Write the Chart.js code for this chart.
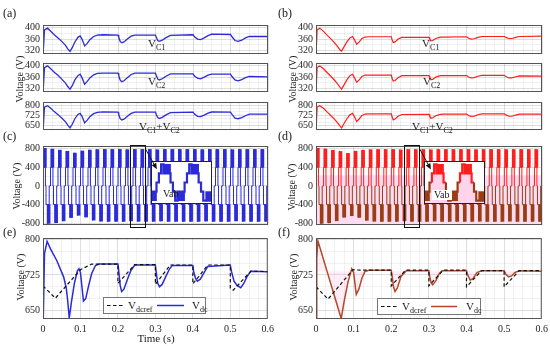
<!DOCTYPE html>
<html>
<head>
<meta charset="utf-8">
<script src="https://cdn.jsdelivr.net/npm/chart.js@4.4.1/dist/chart.umd.min.js"></script>
<style>
  body { margin:0; width:550px; height:346px; position:relative; overflow:hidden; background:#fff;
         font-family:"Liberation Serif","Times New Roman",serif; color:#1a1a1a; }
  canvas { position:absolute; }
  .t { position:absolute; white-space:nowrap; line-height:1; z-index:5; color:#1a1a1a; }
  .pl { font-size:12px; }
  .yt { font-size:10px; transform:translate(-50%,-50%) rotate(-90deg); }
  .v { font-size:11px; }
  .v sub { font-size:8px; vertical-align:-3px; line-height:1; color:#1a1a1a; }
  .leg { position:absolute; box-sizing:border-box; border:1px solid #777; background:#fff; height:17px; z-index:5; }
  .leg svg { position:absolute; top:0; }
  .leg span { position:absolute; top:2px; font-size:11px; line-height:1; white-space:nowrap; color:#1a1a1a; }
  .leg sub { font-size:8px; vertical-align:-3px; line-height:1; color:#1a1a1a; }
  .inset { position:absolute; border:1px solid #222; background:#fff; width:59px; height:41px; z-index:3; }
  .inset canvas { left:0; top:0; }
  .vab { font-size:10px; z-index:6; padding:0 2px; }
</style>
</head>
<body>

<div class="t pl" style="left:3px;top:7px">(a)</div>
<div class="t pl" style="left:278px;top:7px">(b)</div>
<div class="t pl" style="left:3px;top:130px">(c)</div>
<div class="t pl" style="left:278px;top:130px">(d)</div>
<div class="t pl" style="left:3px;top:226px">(e)</div>
<div class="t pl" style="left:278px;top:226px">(f)</div>

<div class="t yt" style="left:20px;top:79px">Voltage (V)</div>
<div class="t yt" style="left:17px;top:186px">Voltage (V)</div>
<div class="t yt" style="left:21px;top:277px">Voltage (V)</div>
<div class="t yt" style="left:293px;top:79px">Voltage (V)</div>
<div class="t yt" style="left:292px;top:187px">Voltage (V)</div>
<div class="t yt" style="left:294px;top:277px">Voltage (V)</div>

<div class="t v" style="left:148px;top:38px">V<sub>C1</sub></div>
<div class="t v" style="left:148px;top:76px">V<sub>C2</sub></div>
<div class="t v" style="left:139px;top:121px">V<sub>C1</sub>+V<sub>C2</sub></div>
<div class="t v" style="left:422px;top:38px">V<sub>C1</sub></div>
<div class="t v" style="left:423px;top:76px">V<sub>C2</sub></div>
<div class="t v" style="left:412px;top:121px">V<sub>C1</sub>+V<sub>C2</sub></div>

<div class="t" style="left:156px;top:333px;transform:translateX(-50%);font-size:11px">Time (s)</div>

<div class="leg" style="left:103px;top:297px;width:103px">
  <svg width="22" height="15" style="left:3px"><line x1="0" y1="7.5" x2="17" y2="7.5" stroke="#111" stroke-width="1.2" stroke-dasharray="3.5,2.5"/></svg>
  <span style="left:24px">V<sub>dcref</sub></span>
  <svg width="30" height="15" style="left:53px"><line x1="0" y1="7.5" x2="27" y2="7.5" stroke="#2b2bd9" stroke-width="1.5"/></svg>
  <span style="left:88px">V<sub>dc</sub></span>
</div>
<div class="leg" style="left:377px;top:298px;width:104px">
  <svg width="22" height="15" style="left:3px"><line x1="0" y1="7.5" x2="18" y2="7.5" stroke="#111" stroke-width="1.2" stroke-dasharray="3.5,2.5"/></svg>
  <span style="left:24px">V<sub>dcref</sub></span>
  <svg width="30" height="15" style="left:53px"><line x1="0" y1="7.5" x2="26" y2="7.5" stroke="#b5482a" stroke-width="1.5"/></svg>
  <span style="left:88px">V<sub>dc</sub></span>
</div>

<div class="inset" id="insetL" style="left:151px;top:161px"></div>
<div class="inset" id="insetR" style="left:424px;top:161px"></div>
<div class="t vab" style="left:161px;top:189px">Vab</div>
<div class="t vab" style="left:432px;top:190px;background:#fff">Vab</div>

<script>
// ---- capacitor voltages, left column (a) ----
const tCapL = [0, 0.004, 0.012, 0.02, 0.03, 0.04, 0.05, 0.06, 0.066, 0.072, 0.078, 0.085, 0.093, 0.099, 0.104, 0.111, 0.118, 0.125, 0.135, 0.145, 0.16, 0.2, 0.202, 0.206, 0.21, 0.216, 0.225, 0.235, 0.245, 0.3, 0.302, 0.306, 0.31, 0.318, 0.328, 0.34, 0.4, 0.404, 0.412, 0.42, 0.43, 0.44, 0.45, 0.5, 0.504, 0.512, 0.52, 0.53, 0.54, 0.55, 0.6];
const vC1L = [300, 392, 398, 388, 375, 364, 352, 338, 326, 317, 330, 350, 366, 371, 360, 336, 345, 358, 369, 374, 375, 374, 366, 352, 347, 350, 360, 370, 374, 374, 366, 355, 352, 356, 365, 373, 375, 368, 360, 358, 364, 372, 377, 376, 368, 355, 352, 356, 364, 369, 369];
const vC2L = [300, 393, 399, 390, 377, 366, 353, 339, 327, 318, 330, 350, 365, 370, 358, 335, 345, 357, 368, 373, 374, 374, 365, 349, 344, 347, 358, 369, 374, 374, 365, 353, 350, 354, 363, 371, 371, 364, 356, 354, 360, 367, 370, 370, 362, 350, 347, 351, 358, 362, 361];
const vSumL = [600, 785, 795, 778, 752, 730, 705, 677, 653, 633, 660, 700, 731, 739, 718, 670, 690, 715, 737, 747, 750, 748, 731, 701, 691, 697, 718, 739, 748, 748, 731, 708, 702, 710, 728, 744, 748, 734, 718, 715, 726, 741, 749, 748, 732, 705, 700, 708, 722, 733, 733];

// ---- capacitor voltages, right column (b) ----
const tCapR = [0, 0.003, 0.01, 0.02, 0.03, 0.04, 0.05, 0.058, 0.064, 0.068, 0.074, 0.082, 0.09, 0.097, 0.102, 0.108, 0.115, 0.122, 0.13, 0.14, 0.2, 0.202, 0.205, 0.21, 0.218, 0.228, 0.3, 0.302, 0.306, 0.31, 0.318, 0.33, 0.34, 0.4, 0.405, 0.412, 0.42, 0.43, 0.44, 0.5, 0.504, 0.512, 0.52, 0.53, 0.54, 0.6];
const vC1R = [300, 392, 398, 387, 373, 360, 346, 333, 322, 318, 332, 350, 364, 369, 358, 342, 350, 362, 367, 368, 368, 358, 348, 350, 360, 366, 366, 360, 354, 355, 362, 367, 367, 368, 363, 360, 361, 366, 369, 369, 366, 362, 362, 366, 369, 370];
const vC2R = [300, 393, 399, 389, 375, 362, 348, 335, 324, 318, 332, 350, 365, 370, 358, 342, 350, 362, 367, 367, 367, 356, 346, 348, 358, 365, 365, 358, 351, 352, 360, 365, 365, 365, 360, 357, 358, 363, 366, 366, 362, 357, 357, 361, 364, 363];
const vSumR = [600, 785, 795, 776, 748, 722, 694, 668, 646, 633, 664, 700, 729, 739, 716, 680, 700, 724, 734, 736, 736, 714, 692, 698, 718, 731, 732, 718, 705, 707, 722, 732, 733, 734, 724, 717, 719, 729, 735, 735, 728, 718, 718, 727, 733, 734];

// ---- inverter output Vab (c), (d): peak of each 20 ms cycle ----
const cyclePeriod = 0.02;
const stairPhase = [0, 0.1, 0.175, 0.325, 0.4, 0.6, 0.675, 0.825, 0.9];
const posPeakL = [810, 792, 770, 745, 708, 752, 772, 782, 786, 786, 786, 780, 786, 786, 786, 778, 786, 786, 786, 786, 786, 781, 786, 786, 786, 780, 786, 786, 786, 786];
const negPeakL = [805, 790, 752, 680, 630, 668, 735, 758, 762, 762, 762, 752, 760, 762, 762, 754, 762, 762, 762, 762, 762, 756, 762, 762, 762, 752, 760, 762, 762, 762];
const posPeakR = [810, 795, 768, 742, 700, 748, 770, 780, 784, 784, 784, 776, 784, 784, 784, 778, 784, 784, 784, 784, 784, 780, 784, 784, 784, 782, 784, 784, 784, 784];
const negPeakR = [805, 792, 748, 672, 640, 676, 738, 758, 762, 762, 762, 750, 760, 762, 762, 755, 762, 762, 762, 762, 762, 758, 762, 762, 762, 756, 762, 762, 762, 762];

// ---- zoomed Vab (insets), time in ms ----
const insetT = [-1, 2.5, 4.2, 5.8, 7.5, 12.5, 14.2, 15.8, 17.5, 22.5, 24.2, 25.8, 27.5, 32.5, 34.2, 35.8, 37.5, 42.5];
const insetV = [-800, -400, 0, 400, 800, 400, 0, -400, -800, -400, 0, 400, 800, 400, 0, -400, -800, -800];
const blockT = [0, 10, 20, 30, 40];
const blockLo = [-800, 400, -800, 400, -800];
const blockHi = [-400, 800, -400, 800, -400];

// ---- dc-link voltage (e), (f) ----
const tDcL = [0, 0.004, 0.011, 0.02, 0.037, 0.055, 0.062, 0.066, 0.07, 0.076, 0.084, 0.092, 0.096, 0.1, 0.104, 0.108, 0.114, 0.122, 0.13, 0.14, 0.15, 0.2, 0.202, 0.206, 0.21, 0.216, 0.225, 0.235, 0.245, 0.3, 0.302, 0.306, 0.311, 0.318, 0.328, 0.338, 0.345, 0.4, 0.402, 0.407, 0.412, 0.42, 0.43, 0.44, 0.5, 0.503, 0.51, 0.518, 0.528, 0.536, 0.545, 0.555, 0.6];
const vDcL = [600, 770, 796, 780, 755, 721, 698, 670, 634, 668, 708, 734, 738, 730, 700, 670, 675, 703, 728, 745, 748, 748, 735, 703, 690, 695, 715, 735, 746, 746, 732, 708, 700, 705, 722, 738, 745, 745, 733, 718, 712, 716, 730, 743, 746, 733, 712, 703, 698, 707, 722, 733, 732];
const tRefL = [0, 0.033, 0.1, 0.13, 0.2, 0.2, 0.245, 0.3, 0.3, 0.34, 0.4, 0.4, 0.44, 0.5, 0.5, 0.508, 0.555, 0.6];
const vRefL = [702, 676, 736, 748, 748, 707, 747, 747, 705, 746, 746, 706, 746, 746, 697, 693, 733, 732];

const tDcR = [0, 0.002, 0.005, 0.015, 0.03, 0.045, 0.058, 0.067, 0.075, 0.085, 0.095, 0.1, 0.107, 0.114, 0.122, 0.13, 0.14, 0.2, 0.202, 0.206, 0.21, 0.216, 0.226, 0.24, 0.3, 0.302, 0.306, 0.31, 0.318, 0.328, 0.335, 0.4, 0.403, 0.41, 0.418, 0.428, 0.44, 0.5, 0.505, 0.512, 0.52, 0.528, 0.54, 0.6];
const vDcR = [600, 760, 797, 771, 731, 691, 657, 633, 670, 710, 738, 730, 684, 695, 718, 732, 735, 735, 725, 700, 690, 697, 722, 734, 734, 722, 708, 704, 712, 728, 734, 734, 725, 714, 718, 730, 734, 734, 726, 721, 723, 730, 734, 733];
const tRefR = [0, 0.032, 0.098, 0.12, 0.2, 0.2, 0.238, 0.3, 0.3, 0.338, 0.4, 0.4, 0.44, 0.5, 0.5, 0.54, 0.6];
const vRefR = [700, 674, 736, 735, 735, 702, 735, 735, 702, 735, 735, 700, 734, 734, 700, 734, 734];

const BLUE = '#2b2bd9', RED = '#ff1e1e', BROWN = '#9a3c14', DCRED = '#b5482a';

Chart.defaults.font.family = '"Liberation Serif", "Times New Roman", serif';
Chart.defaults.font.size = 10;
Chart.defaults.color = '#262626';

const PAD_L = 40, PAD_T = 6, PAD_R = 10, PAD_B = 6;
const gridMajor = 'rgba(0,0,0,0.13)', gridMinor = 'rgba(0,0,0,0.055)';

const isMajor = (v, step) => Math.abs(v / step - Math.round(v / step)) < 1e-6;
const pts = (ts, vs) => ts.map((t, i) => ({ x: t, y: vs[i] }));

// frame box, pink band, zoom rectangle
const framePlugin = {
  id: 'frame',
  beforeDatasetsDraw(chart, args, o) {
    if (!o.band) return;
    const { ctx, chartArea: a, scales: { y } } = chart;
    const y1 = Math.max(y.getPixelForValue(o.band.from), a.top);
    const y2 = Math.min(y.getPixelForValue(o.band.to), a.bottom);
    ctx.save();
    ctx.fillStyle = o.band.color;
    ctx.fillRect(a.left, y1, a.width, y2 - y1);
    ctx.restore();
  },
  afterDraw(chart, args, o) {
    const { ctx, chartArea: a, scales: { x, y } } = chart;
    ctx.save();
    ctx.strokeStyle = '#555';
    ctx.lineWidth = 1;
    ctx.strokeRect(a.left + 0.5, a.top + 0.5, a.width - 1, a.height - 1);
    if (o.zoomBox) {
      const b = o.zoomBox;
      const x0 = Math.round(x.getPixelForValue(b.x0)) + 0.5, x1 = Math.round(x.getPixelForValue(b.x1)) + 0.5;
      const y0 = Math.round(y.getPixelForValue(b.y0)) + 0.5, y1 = Math.round(y.getPixelForValue(b.y1)) + 0.5;
      ctx.strokeStyle = '#111';
      ctx.strokeRect(x0, y0, x1 - x0, y1 - y0);
    }
    ctx.restore();
  }
};

function makePlot(o) {
  const cv = document.createElement('canvas');
  const xH = o.xLabels ? 16 : 0;
  cv.width = PAD_L + o.w + PAD_R;
  cv.height = PAD_T + o.h + xH + PAD_B;
  cv.style.left = (o.left - PAD_L) + 'px';
  cv.style.top = (o.top - PAD_T) + 'px';
  document.body.appendChild(cv);
  const chart = new Chart(cv, {
    type: 'line',
    data: { datasets: o.datasets },
    options: {
      responsive: false,
      animation: false,
      layout: { padding: { top: PAD_T, right: PAD_R, bottom: PAD_B, left: 0 } },
      elements: { point: { radius: 0 }, line: { tension: 0 } },
      plugins: { legend: { display: false }, tooltip: { enabled: false }, frame: o.frame || {} },
      scales: {
        x: {
          type: 'linear', min: 0, max: 0.6, offset: false,
          afterFit: s => { s.height = xH; },
          border: { display: false },
          grid: { offset: false, drawTicks: false, color: c => isMajor(c.tick.value, 0.1) ? gridMajor : gridMinor },
          ticks: { display: !!o.xLabels, stepSize: 0.025, autoSkip: false, maxRotation: 0, padding: 4,
                   callback: v => isMajor(v, 0.1) ? (v === 0 ? '0' : (Math.round(v * 10) / 10).toString()) : '' }
        },
        y: {
          type: 'linear', min: o.yMin, max: o.yMax,
          afterFit: s => { s.width = PAD_L; },
          border: { display: false },
          grid: { drawTicks: false, color: c => isMajor(c.tick.value - o.yBase, o.yMajor) ? gridMajor : gridMinor },
          ticks: { stepSize: o.yMinor, autoSkip: false, includeBounds: false, padding: 3,
                   callback: v => isMajor(v - o.yBase, o.yMajor) ? String(Math.round(v)) : '' }
        }
      }
    },
    plugins: [framePlugin]
  });
  chart.$cv = cv;
  return chart;
}

const line = (data, color, w, extra) => Object.assign({ data, borderColor: color, borderWidth: w, fill: false }, extra || {});

function vabSeries(pos, neg) {
  const t = [], v = [];
  pos.forEach((pk, k) => {
    const lv = [0, 400, pk, 400, 0, -400, -neg[k], -400, 0];
    stairPhase.forEach((ph, j) => { t.push(k * cyclePeriod + ph * cyclePeriod); v.push(lv[j]); });
  });
  t.push(0.6); v.push(0);
  return pts(t, v);
}
const posBars = pos => pos.map((pk, k) => ({ x: (k + 0.25) * cyclePeriod, y: [400, pk] }));
const negBars = neg => neg.map((pk, k) => ({ x: (k + 0.75) * cyclePeriod, y: [-pk, -400] }));
const barSet = (data, color, w) => ({ type: 'bar', data, backgroundColor: color, barThickness: w, grouped: false, borderWidth: 0 });

const L = { left: 42.5, w: 225 }, R = { left: 316, w: 226 };
const capAxis = { yMin: 308, yMax: 409, yBase: 320, yMajor: 40, yMinor: 20 };
const sumAxis = { yMin: 618, yMax: 822, yBase: 650, yMajor: 75, yMinor: 25 };
const vabAxis = { yMin: -840, yMax: 860, yBase: 0, yMajor: 400, yMinor: 200 };
const dcAxis = { yMin: 632, yMax: 803, yBase: 650, yMajor: 75, yMinor: 25 };

// left column
makePlot(Object.assign({}, L, capAxis, { top: 22, h: 35, datasets: [line(pts(tCapL, vC1L), BLUE, 1.3)] }));
makePlot(Object.assign({}, L, capAxis, { top: 60, h: 35, datasets: [line(pts(tCapL, vC2L), BLUE, 1.3)] }));
makePlot(Object.assign({}, L, sumAxis, { top: 98.5, h: 34.5, datasets: [line(pts(tCapL, vSumL), BLUE, 1.3)] }));
const chartC = makePlot(Object.assign({}, L, vabAxis, { top: 143, h: 85,
  frame: { zoomBox: { x0: 0.233, x1: 0.273, y0: 880, y1: -880 } },
  datasets: [barSet(posBars(posPeakL), BLUE, 3), barSet(negBars(negPeakL), BLUE, 3),
             line(vabSeries(posPeakL, negPeakL), BLUE, 1, { stepped: 'after' })] }));
makePlot(Object.assign({}, L, dcAxis, { top: 235, h: 84, xLabels: true,
  datasets: [line(pts(tRefL, vRefL), '#111', 1.2, { borderDash: [3.5, 2.5] }),
             line(pts(tDcL, vDcL), BLUE, 1.5)] }));

// right column
makePlot(Object.assign({}, R, capAxis, { top: 22, h: 35, datasets: [line(pts(tCapR, vC1R), RED, 1.2)] }));
makePlot(Object.assign({}, R, capAxis, { top: 60, h: 35, datasets: [line(pts(tCapR, vC2R), RED, 1.2)] }));
makePlot(Object.assign({}, R, sumAxis, { top: 98.5, h: 34.5, datasets: [line(pts(tCapR, vSumR), RED, 1.2)] }));
const chartD = makePlot(Object.assign({}, R, vabAxis, { top: 143, h: 85,
  frame: { band: { from: 230, to: -900, color: '#fcdcf0' }, zoomBox: { x0: 0.234, x1: 0.274, y0: 880, y1: -880 } },
  datasets: [barSet(posBars(posPeakR), RED, 3), barSet(negBars(negPeakR), BROWN, 3),
             line(vabSeries(posPeakR, negPeakR), RED, 1, { stepped: 'after',
               segment: { borderColor: c => Math.min(c.p0.parsed.y, c.p1.parsed.y) < 0 ? BROWN : RED } })] }));
makePlot(Object.assign({}, R, dcAxis, { top: 235, h: 84, xLabels: true,
  datasets: [line(pts(tRefR, vRefR), '#111', 1.2, { borderDash: [3.5, 2.5] }),
             line(pts(tDcR, vDcR), DCRED, 1.5, { fill: { value: 733 }, backgroundColor: 'rgba(255,150,205,0.16)' })] }));

// insets
function makeInset(id, upper, lower, fillColor) {
  const host = document.getElementById(id);
  const cv = document.createElement('canvas');
  cv.width = 59; cv.height = 41;
  host.appendChild(cv);
  const stair = { data: pts(insetT, insetV), borderColor: upper, borderWidth: 2.2, stepped: 'after', fill: false };
  if (lower !== upper) stair.segment = { borderColor: c => Math.min(c.p0.parsed.y, c.p1.parsed.y) < 0 ? lower : upper };
  if (fillColor) { stair.fill = { value: -900 }; stair.backgroundColor = fillColor; }
  const blocks = blockT.map((t, i) => ({ x: t, y: [blockLo[i], blockHi[i]] }));
  new Chart(cv, {
    type: 'line',
    data: { datasets: [
      { type: 'bar', data: blocks, barThickness: 7, grouped: false, borderWidth: 0,
        backgroundColor: blocks.map(b => b.y[0] > 0 ? upper : lower) },
      stair] },
    options: {
      responsive: false, animation: false,
      layout: { padding: 0 },
      elements: { point: { radius: 0 } },
      plugins: { legend: { display: false }, tooltip: { enabled: false } },
      scales: {
        x: { type: 'linear', min: -0.7, max: 41.3, display: false, offset: false },
        y: { min: -900, max: 900, display: false }
      }
    }
  });
}
makeInset('insetL', BLUE, BLUE, null);
makeInset('insetR', RED, BROWN, 'rgba(255,170,215,0.5)');

// arrows from the zoom boxes to the insets, on an overlay
const ov = document.createElement('canvas');
ov.width = 550; ov.height = 346;
ov.style.left = '0px'; ov.style.top = '0px'; ov.style.zIndex = 4;
document.body.appendChild(ov);
const octx = ov.getContext('2d');
function arrow(chart, t0, v0, t1, v1) {
  const ox = parseFloat(chart.$cv.style.left), oy = parseFloat(chart.$cv.style.top);
  const x0 = ox + chart.scales.x.getPixelForValue(t0), y0 = oy + chart.scales.y.getPixelForValue(v0);
  const x1 = ox + chart.scales.x.getPixelForValue(t1), y1 = oy + chart.scales.y.getPixelForValue(v1);
  const ang = Math.atan2(y1 - y0, x1 - x0), hl = 6, hw = 2.6;
  octx.save();
  octx.strokeStyle = '#111'; octx.fillStyle = '#111'; octx.lineWidth = 1;
  octx.beginPath(); octx.moveTo(x0, y0);
  octx.lineTo(x1 - hl * Math.cos(ang), y1 - hl * Math.sin(ang)); octx.stroke();
  octx.beginPath(); octx.moveTo(x1, y1);
  octx.lineTo(x1 - hl * Math.cos(ang) + hw * Math.sin(ang), y1 - hl * Math.sin(ang) - hw * Math.cos(ang));
  octx.lineTo(x1 - hl * Math.cos(ang) - hw * Math.sin(ang), y1 - hl * Math.sin(ang) + hw * Math.cos(ang));
  octx.closePath(); octx.fill();
  octx.restore();
}
arrow(chartC, 0.275, 790, 0.305, 360);
arrow(chartD, 0.276, 790, 0.305, 355);
</script>
</body>
</html>
